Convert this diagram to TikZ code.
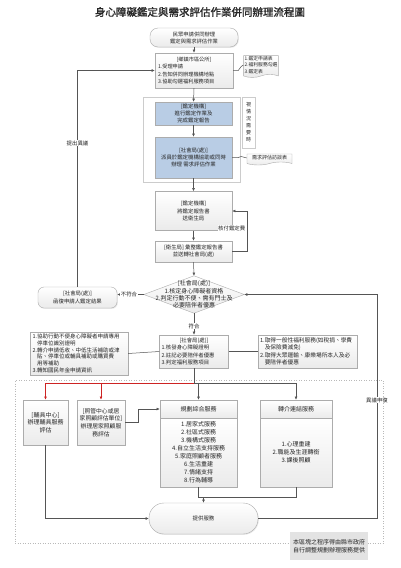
\documentclass[tikz,border=0pt]{standalone}
\usepackage{fontspec}
\setmainfont{Noto Sans CJK TC}
\newfontfamily\titlefont{Noto Sans CJK TC}[FakeBold=1.5]
\usetikzlibrary{shapes.symbols,shadows,arrows.meta,calc}
\definecolor{bluebox}{RGB}{185,205,229}
\definecolor{lineg}{RGB}{85,85,85}
\definecolor{redl}{RGB}{205,35,35}
\newcommand\fsz[2]{\fontsize{#1}{#2}\selectfont}
\newcommand\ctl[2]{\makebox[#1][c]{#2}}
\begin{document}
\begin{tikzpicture}[x=1pt,y=-1pt,
  every node/.style={font=\fsz{5.4}{7.4}, inner sep=1pt, text=black!85},
  box/.style={draw=gray!65, line width=0.4pt, top color=white, bottom color=gray!16,
    drop shadow={opacity=0.18, shadow xshift=0.8pt, shadow yshift=-0.8pt}, align=center},
  bluebx/.style={draw=gray!65, line width=0.4pt, fill=bluebox, align=center},
  docbx/.style={shape=tape, tape bend top=none, tape bend bottom=in and out, tape bend height=3pt,
    draw=gray!65, line width=0.4pt, top color=white, bottom color=gray!16, align=left},
  conn/.style={draw=lineg, line width=0.5pt},
  arr/.style={conn, -{Latex[length=3.2pt,width=2.8pt]}},
  rarr/.style={draw=redl, line width=0.7pt, -{Latex[length=3.2pt,width=2.8pt]}},
  lbl/.style={fill=white, inner sep=0.6pt},
]
\useasboundingbox[fill=white] (0,0) rectangle (400,568);

% dotted service region
\node[draw=gray!55, dotted, line width=0.5pt, minimum width=368pt, minimum height=163pt, inner sep=0] (region) at (199,461.5) {};

% title
\node[font=\titlefont\fsz{10.5}{12}] (title) at (200,12) {身心障礙鑑定與需求評估作業併同辦理流程圖};

% top
\node[box, rounded corners=8pt, minimum width=88pt, minimum height=19pt, font=\fsz{5.3}{7}] (start) at (194,37.5) {民眾申請併同辦理\\鑑定與需求評估作業};

\node[box, minimum width=78pt, minimum height=35pt, text width=72pt, align=left, font=\fsz{5.2}{7.4}] (gs) at (194,70.5)
  {\ctl{72pt}{[鄉鎮市區公所]}\\1.受理申請\\2.告知併同辦理機構地點\\3.協助勾選福利服務項目};
\node[docbx, minimum width=32pt, minimum height=20pt, font=\fsz{4.8}{6.2}] (doc1) at (261,65) {1.鑑定申請表\\2.福利服務勾選\\3.鑑定表};

% group with blue boxes
\node[draw=gray!40, fill=white, line width=0.5pt, minimum width=97pt, minimum height=85pt, inner sep=0,
  drop shadow={opacity=0.12, shadow xshift=0.8pt, shadow yshift=-0.8pt}] (grp) at (191.5,139.5) {};
\node[bluebx, minimum width=77pt, minimum height=23pt] (b1) at (193.5,113.5) {[鑑定機構]\\進行鑑定作業及\\完成鑑定報告};
\node[bluebx, minimum width=77pt, minimum height=41pt] (b2) at (193.5,157.5) {[社會局(處)]\\派員於鑑定機構協助或同時\\辦理 需求評估作業};
\node[draw=gray!40, fill=white, minimum width=13pt, minimum height=51pt, align=center, font=\fsz{5}{7}] (side) at (248.5,122.5) {視\\情\\況\\需\\要\\時};
\node[docbx, align=center, minimum width=45pt, minimum height=11pt, font=\fsz{5}{6}] (doc2) at (269.5,158) {需求評估訪談表};

\node[box, minimum width=77pt, minimum height=39pt] (jd2) at (193.5,211) {[鑑定機構]\\將鑑定報告書\\送衛生局};
\node[box, minimum width=77pt, minimum height=21pt] (ws) at (193.5,251.5) {[衛生局] 彙整鑑定報告書\\並送轉社會局(處)};

% diamond
\node[minimum width=100pt, minimum height=37pt, inner sep=0] (d) at (194,294.5) {};
\draw[draw=gray!65, line width=0.4pt, top color=white, bottom color=gray!16] (d.north) -- (d.east) -- (d.south) -- (d.west) -- cycle;
\node[align=center, font=\fsz{6}{7.4}] (dt) at (d) {[社會局(處)]\\1.核定身心障礙者資格\\2.判定行動不便、需有門士及\\必要陪伴者優惠};

\node[box, rounded corners=6pt, minimum width=79pt, minimum height=21pt] (rej) at (77.5,297.5) {[社會局(處)]\\函復申請人鑑定結果};

\node[box, minimum width=69pt, minimum height=33pt, text width=65pt, align=left, font=\fsz{5.4}{7.4}] (shj) at (194,351.5)
  {\ctl{65pt}{[社會局(處)]}\\1.核發身心障礙證明\\2.註記必要陪伴者優惠\\3.判定福利服務項目};

\node[box, minimum width=98pt, minimum height=43pt, text width=93pt, align=left, font=\fsz{5.5}{6.8}] (lb) at (79,353.5)
  {1.協助行動不便身心障礙者申請專用\\\phantom{1.}停車位識別證明\\2.轉介申請低收、中低生活補助或津\\\phantom{2.}貼、停車位或輔具補助或購買費\\\phantom{2.}用等補助\\3.轉知國民年金申請資訊};

\node[box, minimum width=99pt, minimum height=33pt, text width=95pt, align=left, font=\fsz{5.7}{7.4}] (rb) at (307.5,351.5)
  {1.取得一般性福利服務(如稅捐、學費\\\phantom{1.}及保險費減免)\\2.取得大眾運輸、康樂場所本人及必\\\phantom{2.}要陪伴者優惠};

% service boxes
\node[box, minimum width=45pt, minimum height=45pt, font=\fsz{6}{7.6}] (fuju) at (45.5,422.5) {[輔具中心]\\辦理輔具服務\\評估};
\node[box, minimum width=48pt, minimum height=45pt, font=\fsz{5.8}{7.6}] (zg) at (101,422.5) {[照管中心或居\\家照顧評估單位]\\辦理居家照顧服\\務評估};

\node[box, minimum width=77pt, minimum height=18pt, font=\fsz{6}{7.6}] (planh) at (198.5,409) {規劃綜合服務};
\node[box, minimum width=77pt, minimum height=69pt, font=\fsz{6}{8}] (planb) at (198.5,452.5)
  {1.居家式服務\\2.社區式服務\\3.機構式服務\\4.自立生活支持服務\\5.家庭照顧者服務\\6.生活重建\\7.情緒支持\\8.行為輔導};
\node[box, minimum width=72pt, minimum height=18pt, font=\fsz{6}{7.6}] (zjh) at (296,409) {轉介連結服務};
\node[box, minimum width=72pt, minimum height=69pt, font=\fsz{6}{8}] (zjb) at (296,452.5)
  {1.心理重建\\2.職能及生涯轉銜\\3.課後照顧};

\node[box, rounded corners=15pt, minimum width=109pt, minimum height=31pt, font=\fsz{5.4}{7}] (svc) at (203.5,518.5) {提供服務};

\node[fill=gray!22, minimum width=78pt, minimum height=28pt, align=center, font=\fsz{6}{8}] (note) at (329,546) {本區塊之程序得由縣市政府\\自行調整規劃辦理服務提供};

% connectors
\draw[arr] (start) -- (gs);
\draw[conn] (gs.east) -- ++(5,0) -- ++(3,-4) -- (doc1.west);
\draw[arr] (gs.south) -- (b1.north);
\draw[arr] (b1) -- (b2);
\draw[conn] (b2.east) -- ++(6,0) -- ++(3,-1) -- (doc2.west);
\draw[arr] (b2.south) -- (jd2.north);
\draw[arr] (jd2) -- (ws);
\coordinate (k) at (247,251.5);
\draw[arr] (ws.east) -- (k) |- (jd2.east);
\node[lbl, anchor=east] (kf) at (246,228) {核付鑑定費};
\draw[arr] (ws.south) -- (d.north);

\draw[arr] (d.west) -- (d.west -| rej.east);
\node[lbl] (bfh) at (129,294.5) {不符合};
\draw[arr] (rej.north) |- (gs.west);
\node[lbl] (tcyy) at (77.5,143) {提出異議};

\draw[arr] (d.south) -- (shj.north);
\node[lbl] (fh) at (194,326) {符合};
\draw[conn] (shj.west) -- (lb.east);
\draw[conn, line width=0.9pt] (shj.east) -- (rb.west);

\coordinate (j) at (194,383);
\draw[conn] (shj.south) -- (j);
\draw[rarr] (j) -| (fuju.north);
\draw[rarr] (j -| zg.north) -- (zg.north);
\draw[arr] (j) -| (zjh.north);
\draw[arr] (j -| planh.north) -- (planh.north);
\draw[arr] (zg.east) -- ++(13,0) |- (planh.west);

\coordinate (m) at (203.5,497);
\draw[conn] (planb.south) |- (zjb.south |- m) -- (zjb.south);
\draw[arr] (m) -- (svc.north);
\draw[arr] (fuju.south) |- (svc.west);

\coordinate (r) at (377,294.5);
\draw[arr] (svc.east) -| (r) -- (d.east);
\node[lbl] (yy) at (377,400) {異議申復};
\end{tikzpicture}
\end{document}
